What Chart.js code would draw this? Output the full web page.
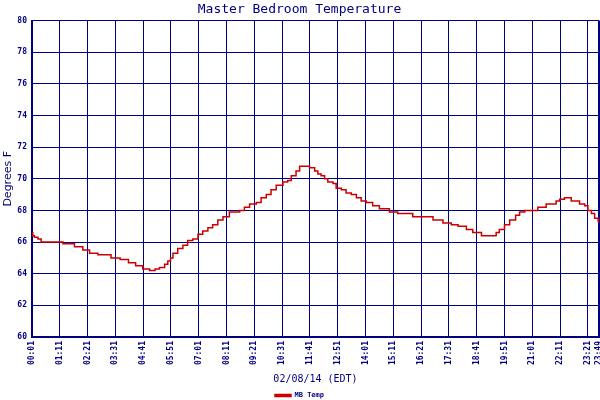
<!DOCTYPE html>
<html>
<head>
<meta charset="utf-8">
<script src="https://cdn.jsdelivr.net/npm/chart.js@4/dist/chart.umd.min.js"></script>
<style>
  html, body { margin: 0; padding: 0; background: #fff; }
  #wrap { width: 600px; height: 400px; }
</style>
</head>
<body>
<div id="wrap"><canvas id="tempChart" width="600" height="400"></canvas></div>
<script>
// readings (time of change, degrees F)
const times = ['00:01','00:03','00:07','00:16','00:24','01:19','01:48','02:09','02:26','02:47',
  '03:20','03:43','04:04','04:22','04:40','04:57','05:11','05:22','05:35','05:43',
  '05:50','05:56','06:08','06:21','06:33','06:46','06:59','07:11','07:24','07:36',
  '07:49','08:02','08:18','08:44','08:56','09:09','09:26','09:38','09:51','10:03',
  '10:16','10:33','10:45','10:54','11:06','11:15','11:40','11:53','12:01','12:09',
  '12:18','12:26','12:39','12:47','13:00','13:12','13:25','13:38','13:50','14:03',
  '14:19','14:36','15:01','15:22','16:00','16:51','17:16','17:37','17:54','18:15',
  '18:31','18:53','19:30','19:38','19:51','20:04','20:19','20:29','20:42','21:15',
  '21:36','22:01','22:10','22:22','22:39','23:00','23:13','23:21','23:30','23:38',
  '23:47','23:49'];
const temps = [66.6,66.4,66.3,66.2,66.0,65.9,65.7,65.5,65.3,65.2,
  65.0,64.9,64.7,64.5,64.3,64.2,64.3,64.4,64.6,64.8,
  65.0,65.3,65.6,65.8,66.1,66.2,66.5,66.7,66.9,67.1,
  67.4,67.6,67.9,68.0,68.2,68.4,68.5,68.8,69.0,69.3,
  69.6,69.8,69.9,70.2,70.5,70.8,70.7,70.5,70.3,70.2,
  70.0,69.8,69.7,69.4,69.3,69.1,69.0,68.8,68.6,68.5,
  68.3,68.1,67.9,67.8,67.6,67.4,67.2,67.1,67.0,66.8,
  66.6,66.4,66.6,66.8,67.1,67.4,67.7,67.9,68.0,68.2,
  68.4,68.6,68.7,68.8,68.6,68.4,68.3,68.0,67.8,67.5,
  67.3,67.2];

const tickLabels = ['00:01','01:11','02:21','03:31','04:41','05:51','07:01','08:11',
  '09:21','10:31','11:41','12:51','14:01','15:11','16:21','17:31','18:41','19:51',
  '21:01','22:11','23:21','23:49'];

const NAVY = '#000080';
const BOTTOM_SHIFT = 9; // legend sits lower than chart.js would put it

function toMin(t) {
    const p = t.split(':');
    return parseInt(p[0], 10) * 60 + parseInt(p[1], 10);
}

const points = times.map((t, i) => ({ x: toMin(t), y: temps[i] }));
const tickMins = tickLabels.map(toMin);

new Chart(document.getElementById('tempChart'), {
    type: 'line',
    data: {
        datasets: [{
            label: 'MB Temp',
            data: points,
            borderColor: '#cc0000',
            backgroundColor: '#cc0000',
            borderWidth: 1.5,
            pointRadius: 0,
            stepped: true,
            fill: false
        }]
    },
    options: {
        responsive: false,
        animation: false,
        layout: { padding: { left: 0, right: 1, top: 0, bottom: -BOTTOM_SHIFT } },
        scales: {
            x: {
                type: 'linear',
                min: tickMins[0],
                max: tickMins[tickMins.length - 1],
                afterBuildTicks: function(scale) {
                    scale.ticks = tickMins.map(v => ({ value: v }));
                },
                afterFit: function(scale) {
                    // keep the plot bottom where the original has it, no label overhang
                    const leg = scale.chart.legend ? scale.chart.legend.height : 0;
                    scale.height = 400 + BOTTOM_SHIFT - 337 - leg;
                    scale.paddingLeft = 0;
                    scale.paddingRight = 0;
                },
                ticks: {
                    autoSkip: false,
                    minRotation: 90,
                    maxRotation: 90,
                    padding: 4,
                    color: NAVY,
                    font: { family: 'DejaVu Sans Mono', size: 8, weight: 'bold' },
                    callback: function(value) {
                        const i = tickMins.indexOf(value);
                        return i >= 0 ? tickLabels[i] : '';
                    }
                },
                grid: {
                    color: NAVY,
                    drawTicks: false,
                    lineWidth: ctx => (ctx.index === tickMins.length - 1 ? 2 : 1)
                },
                border: { color: NAVY, width: 2 },
                title: {
                    display: true,
                    text: '02/08/14 (EDT)',
                    color: NAVY,
                    font: { family: 'DejaVu Sans Mono', size: 10 },
                    padding: { top: 2, bottom: 6 }
                }
            },
            y: {
                min: 60,
                max: 80,
                afterFit: function(scale) {
                    scale.width = 32;
                    scale.paddingTop = 0;
                    scale.paddingBottom = 0;
                },
                ticks: {
                    stepSize: 2,
                    padding: 5,
                    color: NAVY,
                    font: { family: 'DejaVu Sans Mono', size: 8, weight: 'bold' }
                },
                grid: {
                    color: NAVY,
                    drawTicks: false
                },
                border: { color: NAVY, width: 2 },
                title: {
                    display: true,
                    text: 'Degrees F',
                    color: NAVY,
                    font: { family: 'DejaVu Sans', size: 11 },
                    padding: { top: 2, bottom: 0 }
                }
            }
        },
        plugins: {
            title: {
                display: true,
                text: 'Master Bedroom Temperature',
                color: NAVY,
                font: { family: 'DejaVu Sans Mono', size: 13, weight: 'normal' },
                padding: { top: 2, bottom: 3 }
            },
            legend: {
                display: true,
                position: 'bottom',
                labels: {
                    boxWidth: 16,
                    boxHeight: 2,
                    padding: 1,
                    color: NAVY,
                    font: { family: 'DejaVu Sans Mono', size: 7, weight: 'bold' }
                }
            },
            tooltip: { enabled: false }
        }
    }
});
</script>
</body>
</html>
